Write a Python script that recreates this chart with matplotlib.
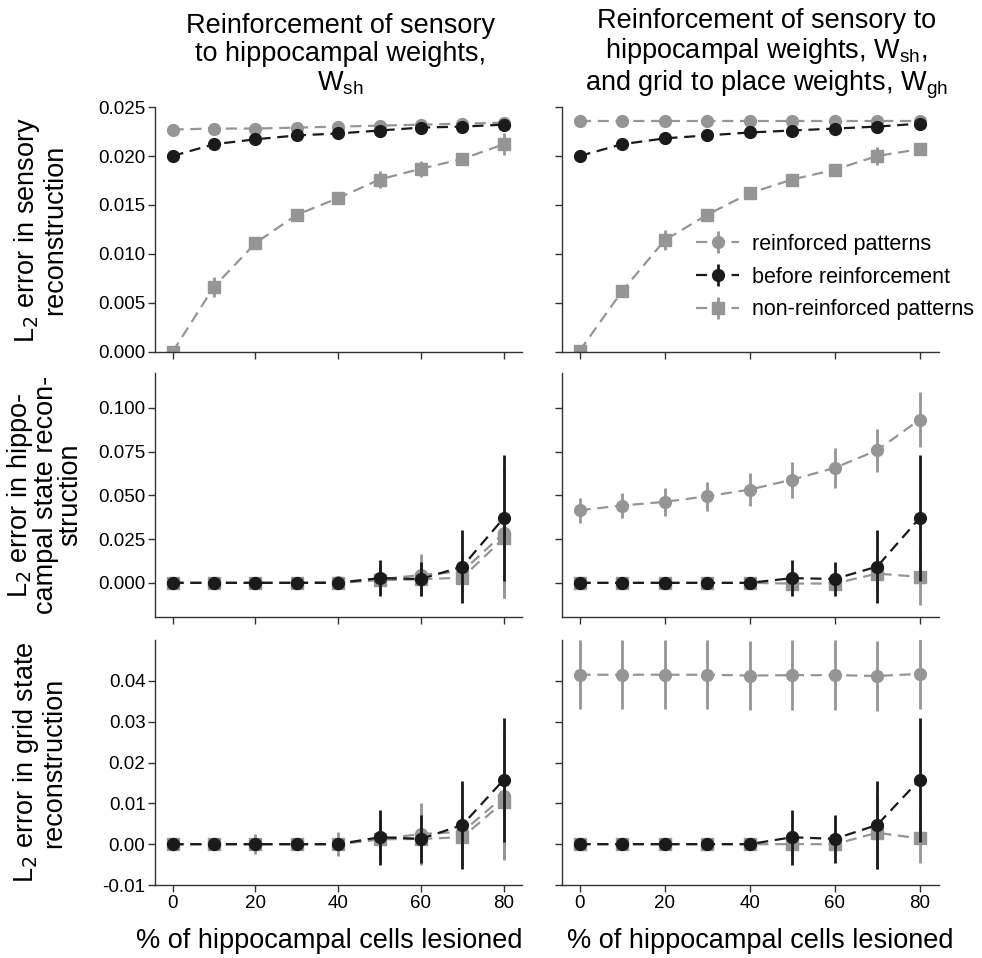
import numpy as np
import matplotlib
matplotlib.use("Agg")
import matplotlib.pyplot as plt

plt.rcParams['font.family'] = ['Liberation Sans', 'DejaVu Sans']
plt.rcParams['axes.unicode_minus'] = False

# % of hippocampal cells lesioned
lesion = [0, 10, 20, 30, 40, 50, 60, 70, 80]

# sensory reconstruction error, W_sh reinforced
sens_reinf_sh = [0.0227, 0.0228, 0.0228, 0.0229, 0.0230, 0.0231, 0.0232, 0.0233, 0.0234]
sens_reinf_sh_err = [0.0001, 0.0001, 0.0001, 0.0001, 0.0001, 0.0001, 0.0001, 0.0001, 0.0001]
sens_before = [0.0200, 0.0212, 0.0217, 0.0221, 0.0223, 0.0226, 0.0229, 0.0230, 0.0232]
sens_before_err = [0.0001, 0.0001, 0.0001, 0.0001, 0.0001, 0.0001, 0.0001, 0.0001, 0.0001]
sens_non_sh = [0.0000, 0.00665, 0.0111, 0.0140, 0.0157, 0.0176, 0.0187, 0.0197, 0.0212]
sens_non_sh_err = [0.0001, 0.0010, 0.0005, 0.0003, 0.0004, 0.00085, 0.0008, 0.0005, 0.0011]

# sensory reconstruction error, W_sh + W_gh reinforced
sens_reinf_gh = [0.0236, 0.0236, 0.0236, 0.0236, 0.0236, 0.0236, 0.0236, 0.0236, 0.0236]
sens_reinf_gh_err = [0.0001, 0.0001, 0.0001, 0.0001, 0.0001, 0.0001, 0.0001, 0.0001, 0.0001]
sens_before2 = [0.0200, 0.0212, 0.0218, 0.0221, 0.0224, 0.0226, 0.0228, 0.0230, 0.0233]
sens_non_gh = [0.0001, 0.0062, 0.0114, 0.0140, 0.0162, 0.0176, 0.0186, 0.0200, 0.0207]
sens_non_gh_err = [0.0001, 0.0003, 0.0010, 0.0003, 0.0003, 0.0003, 0.0003, 0.0009, 0.0003]

# hippocampal state reconstruction error
hip_before = [0.0, 0.0, 0.0, 0.0, 0.0, 0.0027, 0.0022, 0.0093, 0.0371]
hip_before_err = [0.0012, 0.0010, 0.0010, 0.0010, 0.0010, 0.0101, 0.0098, 0.0208, 0.0360]
hip_reinf_sh = [0.0, 0.0, 0.0, 0.0, 0.0005, 0.0020, 0.0045, 0.0065, 0.0285]
hip_reinf_sh_err = [0.0015, 0.0015, 0.0015, 0.0015, 0.0035, 0.0080, 0.0120, 0.0100, 0.0370]
hip_non_sh = [0.0, 0.0, 0.0, 0.0, 0.0, 0.0015, 0.0020, 0.0030, 0.0255]
hip_non_sh_err = [0.0010, 0.0010, 0.0010, 0.0010, 0.0020, 0.0060, 0.0080, 0.0080, 0.0340]
hip_reinf_gh = [0.0415, 0.0442, 0.0463, 0.0495, 0.0533, 0.0590, 0.0657, 0.0758, 0.0933]
hip_reinf_gh_err = [0.0071, 0.0074, 0.0080, 0.0084, 0.0093, 0.0103, 0.0112, 0.0124, 0.0158]
hip_non_gh = [0.0, 0.0, 0.0, 0.0, 0.0, -0.0004, -0.0004, 0.0053, 0.0034]
hip_non_gh_err = [0.0010, 0.0010, 0.0010, 0.0010, 0.0010, 0.0040, 0.0040, 0.0100, 0.0158]

# grid state reconstruction error
grid_before = [0.0, 0.0, 0.0, 0.0, 0.0, 0.0017, 0.0013, 0.0047, 0.0158]
grid_before_err = [0.0005, 0.0005, 0.0005, 0.0005, 0.0005, 0.0067, 0.0059, 0.0107, 0.0152]
grid_reinf_sh = [0.0, 0.0, 0.0, 0.0, 0.0, 0.0012, 0.0025, 0.0030, 0.0117]
grid_reinf_sh_err = [0.0008, 0.0012, 0.0024, 0.0015, 0.0030, 0.0050, 0.0077, 0.0080, 0.0155]
grid_non_sh = [0.0, 0.0, 0.0, 0.0, 0.0, 0.0012, 0.0013, 0.0017, 0.0104]
grid_non_sh_err = [0.0005, 0.0005, 0.0010, 0.0010, 0.0015, 0.0040, 0.0050, 0.0060, 0.0140]
grid_reinf_gh = [0.0415, 0.0415, 0.0415, 0.0415, 0.0413, 0.0414, 0.0414, 0.0412, 0.0417]
grid_reinf_gh_err = [0.0085, 0.0085, 0.0085, 0.0085, 0.0085, 0.0085, 0.0085, 0.0085, 0.0085]
grid_non_gh = [0.0, 0.0, 0.0, 0.0, 0.0, 0.0, 0.0, 0.0028, 0.0014]
grid_non_gh_err = [0.0005, 0.0005, 0.0005, 0.0005, 0.0005, 0.0030, 0.0030, 0.0090, 0.0060]

GREY = '#959595'
BLACK = '#1a1a1a'

panels = [
    # (reinforced, before, non-reinforced)
    [((sens_reinf_sh, sens_reinf_sh_err), (sens_before, sens_before_err), (sens_non_sh, sens_non_sh_err)),
     ((sens_reinf_gh, sens_reinf_gh_err), (sens_before2, sens_before_err), (sens_non_gh, sens_non_gh_err))],
    [((hip_reinf_sh, hip_reinf_sh_err), (hip_before, hip_before_err), (hip_non_sh, hip_non_sh_err)),
     ((hip_reinf_gh, hip_reinf_gh_err), (hip_before, hip_before_err), (hip_non_gh, hip_non_gh_err))],
    [((grid_reinf_sh, grid_reinf_sh_err), (grid_before, grid_before_err), (grid_non_sh, grid_non_sh_err)),
     ((grid_reinf_gh, grid_reinf_gh_err), (grid_before, grid_before_err), (grid_non_gh, grid_non_gh_err))],
]

ylims = [(0, 0.025), (-0.0195, 0.12), (-0.01, 0.05)]
yticks = [np.arange(0, 0.0251, 0.005), np.arange(0, 0.101, 0.025), np.arange(-0.01, 0.041, 0.01)]
yfmt = ['%.3f', '%.3f', '%.2f']
ylabels = ['L$_2$ error in sensory\nreconstruction',
           'L$_2$ error in hippo-\ncampal state recon-\nstruction',
           'L$_2$ error in grid state\nreconstruction']
titles = ['Reinforcement of sensory\nto hippocampal weights,\nW$_{\\mathregular{sh}}$',
          'Reinforcement of sensory to\nhippocampal weights, W$_{\\mathregular{sh}}$,\nand grid to place weights, W$_{\\mathregular{gh}}$']
title_x = [0.505, 0.542]
xlabel_x = [0.473, 0.527]
label_x = [0.041, 0.045, 0.040]
label_spacing = [1.0, 0.9, 1.0]

fig = plt.figure(figsize=(9.82, 9.58), dpi=100)
lefts = [0.158, 0.572]
widths = [0.374, 0.384]
bottoms = [0.6326, 0.356, 0.0762]
heights = [0.2557, 0.2547, 0.2557]

for r in range(3):
    for c in range(2):
        ax = fig.add_axes([lefts[c], bottoms[r], widths[c], heights[r]])
        reinf, before, non = panels[r][c]
        kw = dict(linestyle='--', dashes=(5, 3), lw=1.6, elinewidth=2.0, capsize=0)
        h_non = ax.errorbar(lesion, non[0], yerr=non[1], color=GREY, marker='s', ms=9,
                            zorder=2, label='non-reinforced patterns', **kw)
        h_re = ax.errorbar(lesion, reinf[0], yerr=reinf[1], color=GREY, marker='o', ms=8.5,
                           zorder=3, label='reinforced patterns', **kw)
        h_be = ax.errorbar(lesion, before[0], yerr=before[1], color=BLACK, marker='o', ms=8.5,
                           zorder=4, label='before reinforcement', **kw)
        ax.set_xlim(-4.2, 84.5)
        ax.set_ylim(*ylims[r])
        ax.set_xticks([0, 20, 40, 60, 80])
        ax.set_yticks(yticks[r])
        ax.spines['top'].set_visible(False)
        ax.spines['right'].set_visible(False)
        for s in ['left', 'bottom']:
            ax.spines[s].set_color('#333333')
            ax.spines[s].set_linewidth(1.0)
        ax.tick_params(direction='out', length=5, width=1.0, color='#333333',
                       labelsize=13.5, pad=2)
        if c == 0:
            ax.set_yticklabels([yfmt[r] % v for v in yticks[r]])
            fig.text(label_x[r], bottoms[r] + heights[r] / 2, ylabels[r], rotation=90,
                     ha='center', va='center', fontsize=19.5, linespacing=label_spacing[r])
        else:
            ax.set_yticklabels([])
        if r < 2:
            ax.set_xticklabels([])
        else:
            ax.set_xlabel('% of hippocampal cells lesioned', fontsize=19.5, labelpad=12,
                          x=xlabel_x[c])
        if r == 0:
            ax.set_title(titles[c], fontsize=19.5, linespacing=1.1, pad=12, x=title_x[c])
        if r == 0 and c == 1:
            ax.legend([h_re, h_be, h_non],
                      ['reinforced patterns', 'before reinforcement', 'non-reinforced patterns'],
                      loc='lower right', bbox_to_anchor=(1.145, 0.05), frameon=False,
                      fontsize=15.5, handlelength=2.0, labelspacing=0.55, handletextpad=0.6)

fig.savefig('out.png', dpi=100)
